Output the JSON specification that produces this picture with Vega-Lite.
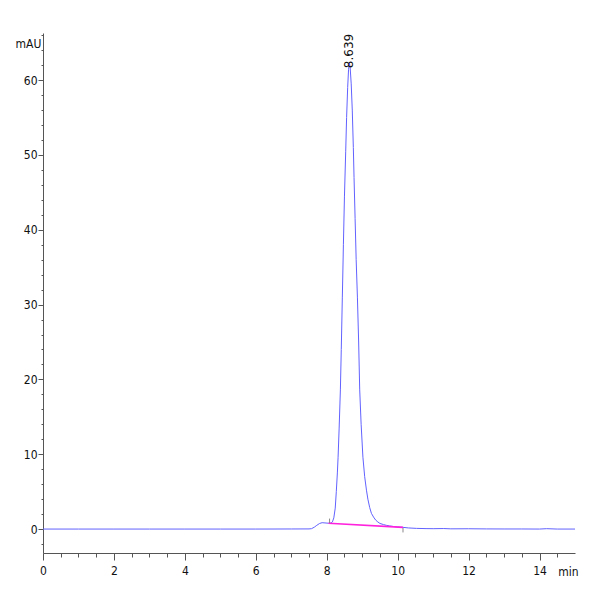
{
  "$schema": "https://vega.github.io/schema/vega-lite/v6.json",
  "width": 532,
  "height": 520,
  "autosize": "none",
  "padding": {"left": 43, "top": 33, "right": 25, "bottom": 47},
  "background": "white",
  "config": {
    "view": {"stroke": null},
    "axis": {
      "grid": false,
      "domainColor": "#555555",
      "tickColor": "#555555",
      "labelColor": "#111111",
      "labelFont": "DejaVu Sans Condensed, Liberation Sans, sans-serif",
      "labelFontSize": 12,
      "titleFont": "DejaVu Sans Condensed, Liberation Sans, sans-serif",
      "titleFontSize": 12,
      "titleFontWeight": "normal",
      "titleColor": "#111111"
    }
  },
  "datasets": {
    "signal": [
      {"t": 0, "v": 0}, {"t": 1, "v": 0}, {"t": 2, "v": 0}, {"t": 3, "v": 0},
      {"t": 4, "v": 0}, {"t": 5, "v": 0}, {"t": 6, "v": 0}, {"t": 7, "v": 0.01},
      {"t": 7.5, "v": 0.02}, {"t": 7.57, "v": 0.05}, {"t": 7.65, "v": 0.25},
      {"t": 7.72, "v": 0.5}, {"t": 7.8, "v": 0.75}, {"t": 7.87, "v": 0.85},
      {"t": 7.95, "v": 0.82}, {"t": 8.05, "v": 0.78}, {"t": 8.12, "v": 0.8},
      {"t": 8.16, "v": 0.95}, {"t": 8.2, "v": 1.5}, {"t": 8.24, "v": 2.8},
      {"t": 8.27, "v": 5.0}, {"t": 8.3, "v": 7.5}, {"t": 8.32, "v": 9.6},
      {"t": 8.35, "v": 13.5}, {"t": 8.385, "v": 18.6}, {"t": 8.41, "v": 24},
      {"t": 8.44, "v": 31}, {"t": 8.47, "v": 38}, {"t": 8.5, "v": 44.5},
      {"t": 8.535, "v": 50.5}, {"t": 8.56, "v": 55}, {"t": 8.59, "v": 59},
      {"t": 8.615, "v": 61.4}, {"t": 8.639, "v": 62.3}, {"t": 8.66, "v": 61.7},
      {"t": 8.69, "v": 59.5}, {"t": 8.72, "v": 56}, {"t": 8.75, "v": 51},
      {"t": 8.77, "v": 47}, {"t": 8.8, "v": 41.5}, {"t": 8.83, "v": 36},
      {"t": 8.865, "v": 31}, {"t": 8.9, "v": 25}, {"t": 8.93, "v": 18.6},
      {"t": 8.97, "v": 14}, {"t": 9.02, "v": 9.6}, {"t": 9.07, "v": 7},
      {"t": 9.12, "v": 5.2}, {"t": 9.16, "v": 4}, {"t": 9.21, "v": 2.9},
      {"t": 9.26, "v": 2.1}, {"t": 9.32, "v": 1.6}, {"t": 9.38, "v": 1.2},
      {"t": 9.44, "v": 0.95}, {"t": 9.5, "v": 0.75}, {"t": 9.6, "v": 0.6},
      {"t": 9.68, "v": 0.5}, {"t": 9.77, "v": 0.42}, {"t": 9.9, "v": 0.33},
      {"t": 10.0, "v": 0.28}, {"t": 10.15, "v": 0.23}, {"t": 10.3, "v": 0.15},
      {"t": 10.53, "v": 0.09}, {"t": 10.8, "v": 0.06}, {"t": 11, "v": 0.05},
      {"t": 11.3, "v": 0.07}, {"t": 11.5, "v": 0.03}, {"t": 12, "v": 0.04},
      {"t": 12.5, "v": 0.02}, {"t": 13, "v": 0.01}, {"t": 13.5, "v": 0.01},
      {"t": 14, "v": 0}, {"t": 14.2, "v": 0.05}, {"t": 14.5, "v": 0},
      {"t": 15, "v": 0}
    ],
    "baseline": [
      {"t": 8.05, "v": 0.78},
      {"t": 10.15, "v": 0.22}
    ],
    "marks": [
      {"t": 8.08, "v": 0.8, "v2": 1.4},
      {"t": 10.15, "v": 0.15, "v2": -0.45}
    ],
    "peaks": [
      {"t": 8.639, "v": 61.6, "label": "8.639"}
    ]
  },
  "encoding": {
    "x": {
      "field": "t",
      "type": "quantitative",
      "scale": {"domain": [0, 15], "nice": false, "zero": false},
      "axis": {
        "title": "min",
        "titleAngle": 0,
        "titleX": 525,
        "titleY": 18,
        "titleAlign": "center",
        "titleBaseline": "middle",
        "values": [0, 0.5, 1, 1.5, 2, 2.5, 3, 3.5, 4, 4.5, 5, 5.5, 6, 6.5, 7, 7.5, 8, 8.5, 9, 9.5, 10, 10.5, 11, 11.5, 12, 12.5, 13, 13.5, 14, 14.5],
        "labelExpr": "datum.value % 2 === 0 ? format(datum.value, 'd') : ''",
        "tickSize": {"condition": {"test": "datum.value % 2 === 0", "value": 7}, "value": 4},
        "labelPadding": 5,
        "labelOverlap": false,
        "labelFlush": false
      }
    },
    "y": {
      "field": "v",
      "type": "quantitative",
      "scale": {"domain": [-3.2, 66.3], "nice": false, "zero": false},
      "axis": {
        "title": "mAU",
        "titleAngle": 0,
        "titleX": -15,
        "titleY": 10,
        "titleAlign": "center",
        "titleBaseline": "middle",
        "values": [-2, 0, 2, 4, 6, 8, 10, 12, 14, 16, 18, 20, 22, 24, 26, 28, 30, 32, 34, 36, 38, 40, 42, 44, 46, 48, 50, 52, 54, 56, 58, 60, 62, 64, 66],
        "labelExpr": "datum.value % 10 === 0 ? format(datum.value, 'd') : ''",
        "tickSize": {"condition": {"test": "datum.value % 10 === 0", "value": 5}, "value": 2},
        "labelPadding": 1,
        "labelOverlap": false,
        "labelFlush": false
      }
    }
  },
  "layer": [
    {
      "data": {"name": "signal"},
      "mark": {"type": "line", "color": "#6262ff", "strokeWidth": 1},
      "encoding": {}
    },
    {
      "data": {"name": "baseline"},
      "mark": {"type": "line", "color": "#ff22dd", "strokeWidth": 1.6},
      "encoding": {}
    },
    {
      "data": {"name": "marks"},
      "mark": {"type": "rule", "color": "#888888", "strokeWidth": 1},
      "encoding": {"y2": {"field": "v2"}}
    },
    {
      "data": {"name": "peaks"},
      "mark": {
        "type": "text",
        "angle": 270,
        "align": "left",
        "baseline": "middle",
        "font": "DejaVu Sans",
        "fontSize": 12,
        "color": "#111111"
      },
      "encoding": {"text": {"field": "label"}}
    }
  ]
}
